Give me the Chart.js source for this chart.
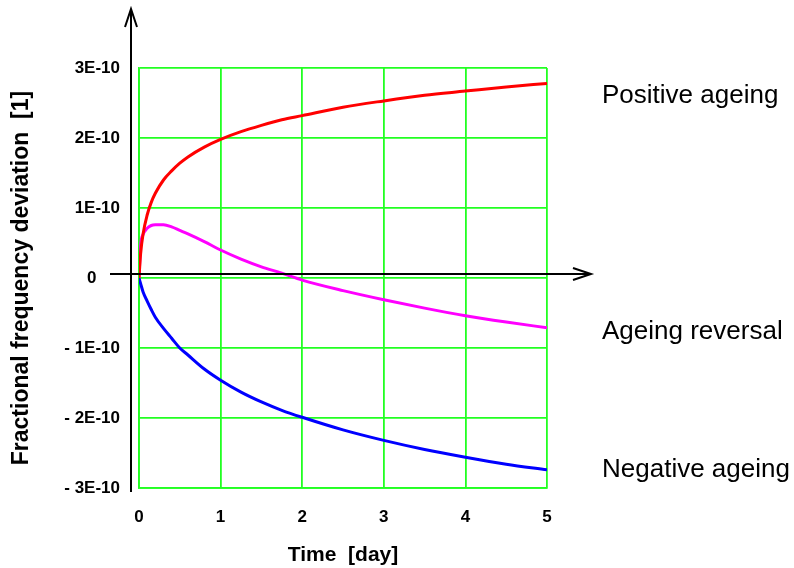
<!DOCTYPE html>
<html>
<head>
<meta charset="utf-8">
<script src="https://cdn.jsdelivr.net/npm/chart.js@4/dist/chart.umd.min.js"></script>
<style>
  html, body { margin: 0; padding: 0; background: #fff; }
  #wrap { width: 794px; height: 568px; }
</style>
</head>
<body>
<div id="wrap"><canvas id="ageingChart" width="794" height="568"></canvas></div>
<script>
    // Data (values in units of 1E-10)
    const timeDays = [0, 0.02, 0.05, 0.1, 0.15, 0.2, 0.3, 0.4, 0.5, 0.6, 0.8, 1.0,
                      1.25, 1.5, 1.75, 2, 2.5, 3, 3.5, 4, 4.5, 5];
    const positiveAgeing = [0, 0.35, 0.63, 0.90, 1.08, 1.21, 1.40, 1.53, 1.64, 1.73, 1.87, 1.98,
                            2.09, 2.18, 2.26, 2.32, 2.44, 2.53, 2.61, 2.67, 2.73, 2.78];
    const ageingReversal = [0, 0.47, 0.62, 0.71, 0.75, 0.76, 0.76, 0.73, 0.68, 0.63, 0.52, 0.40,
                            0.27, 0.16, 0.07, -0.03, -0.18, -0.31, -0.43, -0.54, -0.63, -0.71];
    const negativeAgeing = [0, -0.08, -0.20, -0.33, -0.45, -0.56, -0.72, -0.86, -1.00, -1.10, -1.30, -1.46,
                            -1.63, -1.77, -1.89, -1.99, -2.17, -2.32, -2.45, -2.56, -2.66, -2.74];

    const seriesNames = ['Positive ageing', 'Ageing reversal', 'Negative ageing'];
    const seriesColors = ['#ff0000', '#ff00ff', '#0000ff'];
    const xTickLabels = ['0', '1', '2', '3', '4', '5'];
    const yTickLabels = ['- 3E-10', '- 2E-10', '- 1E-10', '0     ', '1E-10', '2E-10', '3E-10'];

    const FONT = 'Arial, "Liberation Sans", sans-serif';
    const GRID_GREEN = '#22ff22';

    function toPoints(values) {
        return values.map((v, i) => ({ x: timeDays[i], y: v }));
    }

    // Black axes with open arrowheads, plus the series names on the right
    const decorations = {
        id: 'decorations',
        afterDraw(chart) {
            const ctx = chart.ctx;
            const area = chart.chartArea;
            const xs = chart.scales.x;
            const ys = chart.scales.y;
            const axisY = ys.getPixelForValue(0) - 4;
            const axisX = xs.getPixelForValue(0) - 8;

            ctx.save();
            ctx.strokeStyle = '#000';
            ctx.lineWidth = 2;
            ctx.beginPath();
            // horizontal axis
            ctx.moveTo(area.left - 29, axisY);
            ctx.lineTo(area.right + 44, axisY);
            ctx.moveTo(area.right + 26, axisY - 6);
            ctx.lineTo(area.right + 44, axisY);
            ctx.lineTo(area.right + 26, axisY + 6);
            // vertical axis
            ctx.moveTo(axisX, area.bottom + 4);
            ctx.lineTo(axisX, area.top - 59);
            ctx.moveTo(axisX - 6, area.top - 41);
            ctx.lineTo(axisX, area.top - 59);
            ctx.lineTo(axisX + 6, area.top - 41);
            ctx.stroke();

            // series names
            const offsets = [12, 4, 0];
            ctx.fillStyle = '#000';
            ctx.font = '26px ' + FONT;
            ctx.textAlign = 'left';
            ctx.textBaseline = 'middle';
            chart.data.datasets.forEach((ds, i) => {
                const last = ds.data[ds.data.length - 1];
                ctx.fillText(seriesNames[i], area.right + 55, ys.getPixelForValue(last.y) + offsets[i]);
            });
            ctx.restore();
        }
    };

    const ctx = document.getElementById('ageingChart').getContext('2d');
    const chart = new Chart(ctx, {
        type: 'line',
        data: {
            datasets: [positiveAgeing, ageingReversal, negativeAgeing].map((vals, i) => ({
                label: seriesNames[i],
                data: toPoints(vals),
                borderColor: seriesColors[i],
                borderWidth: 3,
                pointRadius: 0,
                cubicInterpolationMode: 'monotone',
                fill: false
            }))
        },
        options: {
            responsive: false,
            animation: false,
            layout: { padding: { left: 0, right: 247, top: 68, bottom: 0 } },
            plugins: {
                legend: { display: false },
                tooltip: { enabled: false }
            },
            scales: {
                x: {
                    type: 'linear',
                    min: 0,
                    max: 5,
                    ticks: {
                        stepSize: 1,
                        padding: 19,
                        color: '#000',
                        font: { family: FONT, size: 17, weight: 'bold' },
                        callback: (v) => xTickLabels[v]
                    },
                    grid: { color: GRID_GREEN, lineWidth: 1.8, drawTicks: false },
                    border: { color: GRID_GREEN, width: 1.8 },
                    title: {
                        display: true,
                        text: 'Time  [day]',
                        color: '#000',
                        font: { family: FONT, size: 21, weight: 'bold' },
                        padding: { top: 2, bottom: 0 }
                    },
                    afterFit: (scale) => { scale.height = 80; }
                },
                y: {
                    type: 'linear',
                    min: -3,
                    max: 3,
                    ticks: {
                        stepSize: 1,
                        padding: 19,
                        color: '#000',
                        font: { family: FONT, size: 17, weight: 'bold' },
                        callback: (v) => yTickLabels[v + 3]
                    },
                    grid: { color: GRID_GREEN, lineWidth: 1.8, drawTicks: false },
                    border: { color: GRID_GREEN, width: 1.8 },
                    title: {
                        display: true,
                        text: 'Fractional frequency deviation  [1]',
                        color: '#000',
                        font: { family: FONT, size: 23, weight: 'bold' },
                        padding: { top: 8, bottom: 0 }
                    },
                    afterFit: (scale) => { scale.width = 139; }
                }
            }
        },
        plugins: [decorations]
    });
</script>
</body>
</html>
